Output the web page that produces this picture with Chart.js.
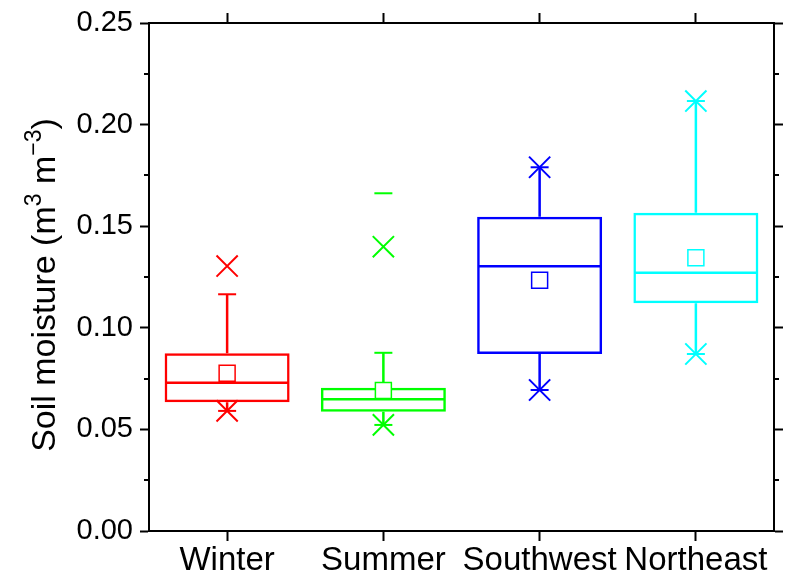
<!DOCTYPE html>
<html>
<head>
<meta charset="utf-8">
<script src="https://cdn.jsdelivr.net/npm/chart.js@4"></script>
<style>
  html, body { margin: 0; padding: 0; background: #fff; }
  #wrap { width: 785px; height: 578px; }
</style>
</head>
<body>
<div id="wrap"><canvas id="myChart" width="785" height="578"></canvas></div>
<script>
// box chart values
const categories = ['Winter', 'Summer', 'Southwest', 'Northeast'];
const q1 = [0.0633, 0.0587, 0.0871, 0.1121];
const median = [0.0730, 0.0648, 0.1303, 0.1271];
const q3 = [0.0875, 0.0705, 0.1547, 0.1566];
const mean = [0.0776, 0.0692, 0.1234, 0.1345];
const whiskerLow = [0.0591, 0.0522, 0.0694, 0.0871];
const whiskerHigh = [0.1165, 0.0877, 0.1790, 0.2116];
const crossHigh = [0.1304, 0.1399, 0.1790, 0.2116];
const crossLow = [0.0591, 0.0522, 0.0694, 0.0871];
const maxDash = [null, 0.1662, null, null];

const yTicks = [0, 0.05, 0.10, 0.15, 0.20, 0.25];
const yMinor = [0.025, 0.075, 0.125, 0.175, 0.225];
const colors = ['#ff0000', '#00ff00', '#0000ff', '#00ffff'];

const FONT = '"Liberation Sans", Arial, sans-serif';

function pointSet(label, data, style, radius, width, order) {
  return {
    type: 'line', label: label, data: data, showLine: false,
    pointStyle: style, pointRadius: radius, pointHoverRadius: radius,
    pointBorderColor: colors, pointBackgroundColor: '#ffffff',
    pointBorderWidth: width, order: order
  };
}

// whiskers and median lines, drawn under the markers
const boxLines = {
  id: 'boxLines',
  beforeDatasetsDraw(chart) {
    const ctx = chart.ctx;
    const y = chart.scales.y;
    const idx = chart.data.datasets.findIndex(d => d.type === 'bar');
    const bars = chart.getDatasetMeta(idx).data;
    ctx.save();
    ctx.lineWidth = 2.5;
    categories.forEach((c, i) => {
      const cx = bars[i].x, half = bars[i].width / 2;
      ctx.strokeStyle = colors[i];
      ctx.beginPath();
      ctx.moveTo(cx - half + 1, y.getPixelForValue(median[i]));
      ctx.lineTo(cx + half - 1, y.getPixelForValue(median[i]));
      ctx.moveTo(cx, y.getPixelForValue(q3[i]));
      ctx.lineTo(cx, y.getPixelForValue(whiskerHigh[i]));
      ctx.moveTo(cx, y.getPixelForValue(q1[i]));
      ctx.lineTo(cx, y.getPixelForValue(whiskerLow[i]));
      ctx.stroke();
    });
    ctx.restore();
  }
};

// minor ticks and the y title with superscripts
const extras = {
  id: 'extras',
  afterDraw(chart) {
    const ctx = chart.ctx;
    const a = chart.chartArea;
    const y = chart.scales.y;
    ctx.save();
    ctx.strokeStyle = '#000';
    ctx.lineWidth = 2;
    ctx.beginPath();
    yMinor.forEach(v => {
      const py = Math.round(y.getPixelForValue(v));
      ctx.moveTo(a.left - 5, py); ctx.lineTo(a.left, py);
      ctx.moveTo(a.right, py); ctx.lineTo(a.right + 5, py);
    });
    ctx.stroke();

    ctx.translate(55, 285);
    ctx.rotate(-Math.PI / 2);
    ctx.fillStyle = '#000';
    ctx.textBaseline = 'alphabetic';
    const parts = [
      ['Soil moisture (m', 34, 0],
      ['3', 23, -14],
      [' m', 34, 0],
      ['\u22123', 23, -14],
      [')', 34, 0]
    ];
    let total = 0;
    parts.forEach(p => { ctx.font = p[1] + 'px ' + FONT; total += ctx.measureText(p[0]).width; });
    let x = -total / 2;
    parts.forEach(p => {
      ctx.font = p[1] + 'px ' + FONT;
      ctx.fillText(p[0], x, p[2]);
      x += ctx.measureText(p[0]).width;
    });
    ctx.restore();
  }
};

const tickGrid = { offset: false, drawOnChartArea: false, tickLength: 10, tickWidth: 2, tickColor: '#000' };
const yGrid = { drawOnChartArea: false, tickLength: 9, tickWidth: 2, tickColor: '#000' };
const axisBorder = { display: true, color: '#000', width: 2 };
const setYTicks = s => { s.ticks = yTicks.map(v => ({ value: v })); };
const noPad = s => { s.paddingLeft = 0; s.paddingRight = 0; };

new Chart(document.getElementById('myChart'), {
  type: 'bar',
  data: {
    labels: categories,
    datasets: [
      pointSet('Mean', mean, 'rect', 11.3, 1.5, 0),
      pointSet('Whisker top', whiskerHigh, 'line', 9, 2, 1),
      pointSet('Whisker bottom', whiskerLow, 'line', 9, 2, 1),
      pointSet('High', crossHigh, 'crossRot', 15, 2, 2),
      pointSet('Low', crossLow, 'crossRot', 15, 2, 2),
      pointSet('Max', maxDash, 'line', 9, 2, 2),
      {
        type: 'bar', label: 'Box',
        data: categories.map((c, i) => [q1[i], q3[i]]),
        backgroundColor: 'rgba(0,0,0,0)', borderColor: colors,
        borderWidth: 2.5, borderSkipped: false,
        barPercentage: 0.8, categoryPercentage: 1, order: 5
      }
    ]
  },
  options: {
    responsive: false,
    animation: false,
    events: [],
    layout: { padding: 0, autoPadding: false },
    plugins: { legend: { display: false }, tooltip: { enabled: false } },
    scales: {
      x: {
        offset: true,
        grid: tickGrid,
        border: axisBorder,
        ticks: { color: '#000', font: { family: FONT, size: 33 }, padding: 0, maxRotation: 0, autoSkip: false },
        afterFit: s => { s.height = 47; noPad(s); }
      },
      x2: {
        type: 'category', position: 'top', offset: true,
        grid: tickGrid,
        border: axisBorder,
        ticks: { display: false },
        afterFit: s => { s.height = 23; noPad(s); }
      },
      y: {
        min: 0, max: 0.25,
        afterBuildTicks: setYTicks,
        grid: yGrid,
        border: axisBorder,
        ticks: { color: '#000', font: { family: FONT, size: 29 }, padding: 7, callback: v => v.toFixed(2) },
        afterFit: s => { s.width = 149; s.paddingTop = 0; s.paddingBottom = 0; }
      },
      y2: {
        position: 'right', min: 0, max: 0.25,
        afterBuildTicks: setYTicks,
        grid: yGrid,
        border: axisBorder,
        ticks: { display: false },
        afterFit: s => { s.width = 11; }
      }
    }
  },
  plugins: [boxLines, extras]
});
</script>
</body>
</html>
